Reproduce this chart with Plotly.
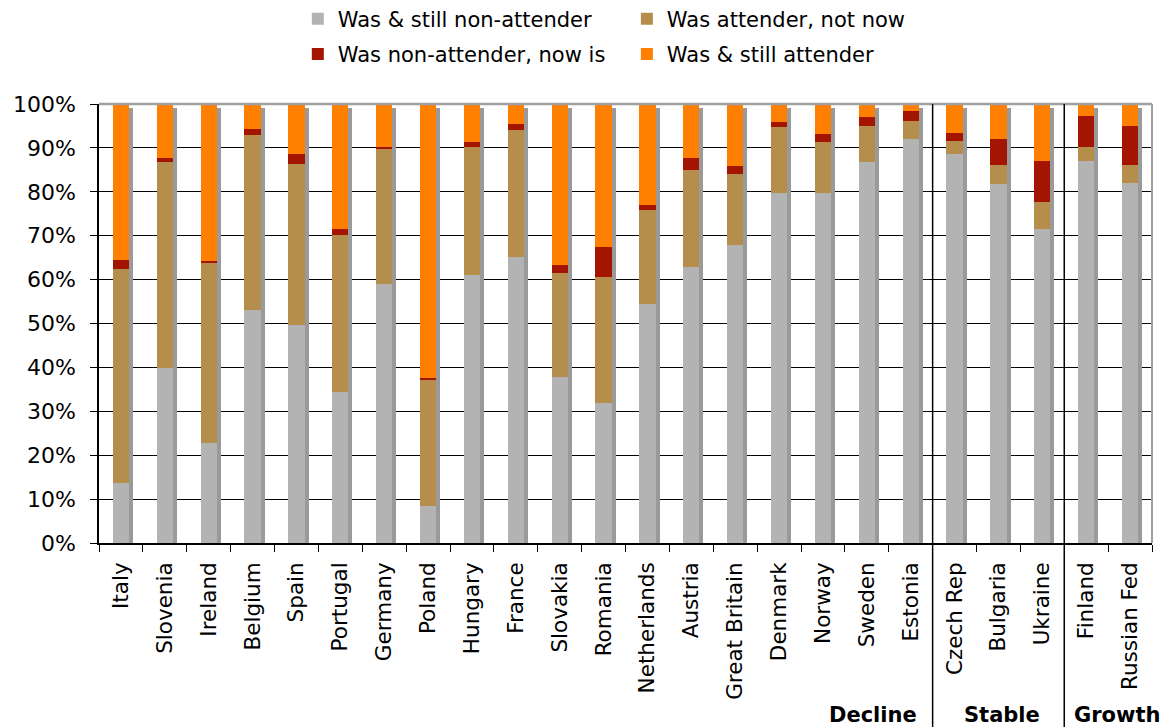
import plotly.graph_objects as go

countries = ["Italy", "Slovenia", "Ireland", "Belgium", "Spain", "Portugal", "Germany",
             "Poland", "Hungary", "France", "Slovakia", "Romania", "Netherlands", "Austria",
             "Great Britain", "Denmark", "Norway", "Sweden", "Estonia", "Czech Rep",
             "Bulgaria", "Ukraine", "Finland", "Russian Fed"]

still_non_attender = [13.7, 39.9, 22.8, 53.1, 49.7, 34.4, 59.1, 8.4, 61.0, 65.2, 37.9, 31.9,
                      54.5, 62.9, 67.8, 79.8, 79.8, 86.7, 92.0, 88.6, 81.8, 71.6, 87.1, 82.1]
attender_not_now = [48.7, 46.9, 41.2, 39.8, 36.7, 35.7, 30.7, 28.9, 29.2, 28.8, 23.5, 28.7,
                    21.3, 22.0, 16.3, 14.9, 11.5, 8.4, 4.2, 3.0, 4.2, 6.0, 3.0, 3.9]
non_attender_now_is = [2.0, 1.0, 0.2, 1.4, 2.3, 1.5, 0.3, 0.3, 1.1, 1.4, 1.9, 6.9,
                       1.1, 2.9, 1.8, 1.1, 1.9, 1.9, 2.3, 1.9, 6.0, 9.5, 7.2, 9.1]
still_attender = [35.6, 12.2, 35.8, 5.7, 11.3, 28.4, 9.9, 62.4, 8.7, 4.6, 36.7, 32.5,
                  23.1, 12.2, 14.1, 4.2, 6.8, 3.0, 1.5, 6.5, 8.0, 12.9, 2.7, 4.9]

y_ticks = list(range(0, 101, 10))
y_tick_labels = [f"{v}%" for v in y_ticks]

groups = ["Decline", "Stable", "Growth"]
group_ends = [18, 21, 23]  # index of last country in each group

FONT = "DejaVu Sans, Verdana, sans-serif"
BAR_W = 0.37

series = [
    ("Was & still non-attender", still_non_attender, "#B3B3B3", "legend"),
    ("Was attender, not now", attender_not_now, "#B58E4B", "legend2"),
    ("Was non-attender, now is", non_attender_now_is, "#A31500", "legend"),
    ("Was & still attender", still_attender, "#FF7F00", "legend2"),
]

fig = go.Figure()

# drop shadow behind each stacked column
totals = [sum(v) for v in zip(still_non_attender, attender_not_now, non_attender_now_is, still_attender)]
fig.add_trace(go.Bar(
    x=countries, y=totals, base=-0.9, width=BAR_W, offset=-BAR_W / 2 + 0.09,
    marker=dict(color="#9A9A9A", line=dict(width=0)),
    showlegend=False, hoverinfo="skip", xaxis="x", yaxis="y",
))

for name, vals, color, leg in series:
    fig.add_trace(go.Bar(
        x=countries, y=vals, name=name, width=BAR_W,
        marker=dict(color=color, line=dict(width=0)),
        legend=leg, legendgroup=name, xaxis="x2", yaxis="y",
    ))

shapes = [
    # grey frame along top and right edges
    dict(type="line", xref="paper", yref="paper", x0=0, x1=1, y0=1, y1=1,
         line=dict(color="#A0A0A0", width=2.5)),
    dict(type="line", xref="paper", yref="paper", x0=1, x1=1, y0=0, y1=1,
         line=dict(color="#A0A0A0", width=2)),
]
for end in group_ends[:-1]:
    shapes.append(dict(type="line", xref="x", yref="paper", x0=end + 0.5, x1=end + 0.5,
                       y0=1, y1=-0.45, line=dict(color="black", width=1.5)))

label_y = -0.392
annotations = [
    dict(text="<b>Decline</b>", xref="x", yref="paper", x=18.5, y=label_y, xanchor="right",
         xshift=-14, yanchor="middle", showarrow=False, font=dict(family=FONT, size=21, color="black")),
    dict(text="<b>Stable</b>", xref="x", yref="paper", x=20.0, y=label_y, xanchor="center",
         xshift=4, yanchor="middle", showarrow=False, font=dict(family=FONT, size=21, color="black")),
    dict(text="<b>Growth</b>", xref="x", yref="paper", x=21.5, y=label_y, xanchor="left",
         xshift=8, yanchor="middle", showarrow=False, font=dict(family=FONT, size=21, color="black")),
]

fig.update_layout(
    width=1166, height=727,
    margin=dict(l=99, r=14, t=104, b=184, autoexpand=False),
    paper_bgcolor="white", plot_bgcolor="white",
    barmode="stack", bargap=0.6,
    font=dict(family=FONT, size=21, color="black"),
    xaxis=dict(
        type="category", categoryorder="array", categoryarray=countries,
        range=[-0.5, len(countries) - 0.5],
        tickson="boundaries", ticks="outside", ticklen=7, tickwidth=1.2, tickcolor="black",
        tickangle=-90, tickfont=dict(family=FONT, size=21.5, color="black"),
        ticklabelstandoff=9,
        showline=True, linecolor="black", linewidth=1.5, showgrid=False, zeroline=False,
        fixedrange=True,
    ),
    xaxis2=dict(
        type="category", categoryorder="array", categoryarray=countries,
        range=[-0.5, len(countries) - 0.5], overlaying="x", visible=False,
        fixedrange=True,
    ),
    yaxis=dict(
        range=[0, 100], tickmode="array", tickvals=y_ticks, ticktext=y_tick_labels,
        ticks="outside", ticklen=7, tickwidth=1.2, tickcolor="black",
        tickfont=dict(family=FONT, size=22, color="black"),
        showline=True, linecolor="black", linewidth=1.5,
        showgrid=True, gridcolor="black", gridwidth=1.2, zeroline=False,
        ticklabelstandoff=10, fixedrange=True,
    ),
    legend=dict(x=0.1888, y=1.2400, xanchor="left", yanchor="top", orientation="v",
                tracegroupgap=5, font=dict(family=FONT, size=21, color="black"),
                bgcolor="rgba(0,0,0,0)"),
    legend2=dict(x=0.5013, y=1.2400, xanchor="left", yanchor="top", orientation="v",
                 tracegroupgap=5, font=dict(family=FONT, size=21, color="black"),
                 bgcolor="rgba(0,0,0,0)"),
    shapes=shapes,
    annotations=annotations,
)

fig.write_html("out.html")
